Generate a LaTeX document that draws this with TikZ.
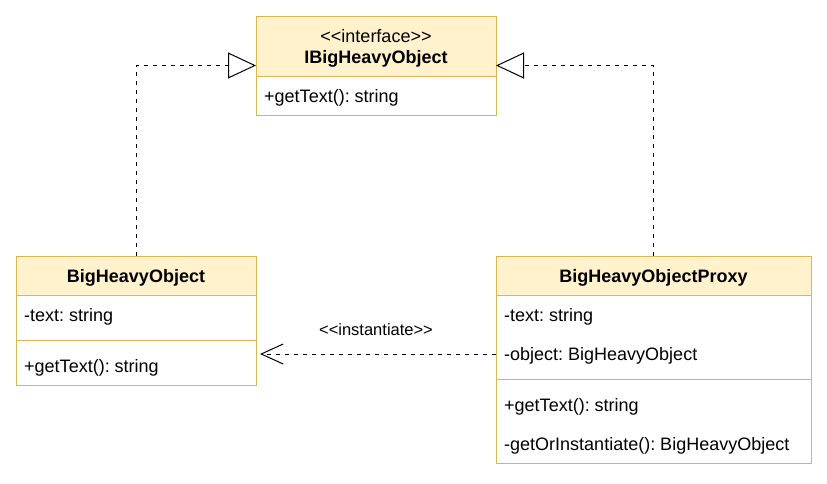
\documentclass[tikz,border=0pt]{standalone}
\usepackage{fontspec}
\setmainfont{Liberation Sans}[Ligatures=TeXOff]
\frenchspacing
\usetikzlibrary{arrows.meta}
\definecolor{hdrfill}{HTML}{FFF2CC}
\definecolor{hdrline}{HTML}{D6B656}
\begin{document}
\begin{tikzpicture}[x=1pt,y=-1pt,
  every node/.style={font=\fontsize{18}{20}\selectfont},
  classbox/.style={draw=hdrline,fill=white,line width=1pt,anchor=north west,inner sep=0,outer sep=0},
  hdrbox/.style={draw=hdrline,fill=hdrfill,line width=1pt,anchor=north west,inner sep=0,outer sep=0},
  divider/.style={draw=hdrline,line width=1pt},
  member/.style={anchor=west,inner sep=0,text height=13pt,text depth=0pt},
  title/.style={inner sep=0,text height=13pt,text depth=0pt,font=\fontsize{18}{20}\selectfont\bfseries},
  plain/.style={inner sep=0,text height=13pt,text depth=0pt},
  small/.style={inner sep=0,font=\fontsize{16.5}{18}\selectfont},
  realize/.style={draw=black,line width=1pt,dash pattern=on 4.5pt off 4.5pt,
    -{Triangle[open,length=28pt,width=26pt,line width=1pt]}},
  depend/.style={draw=black,line width=1pt,dash pattern=on 4.5pt off 4.5pt,
    -{Straight Barb[length=22pt,width=20pt,line width=1pt]},shorten >=4pt}
]
\useasboundingbox (0,0) rectangle (827,483);
\fill[white] (0,0) rectangle (827,483);

% Interface
\node[classbox,minimum width=240,minimum height=99] (iface) at (256,16) {};
\node[hdrbox,minimum width=240,minimum height=60] (ifaceh) at (256,16) {};
\node[plain] (ifst) at (376,36) {<<interface>>};
\node[title] (ifname) at (376,57) {IBigHeavyObject};
\node[member] (ifop) at (264,96) {+getText(): string};

% BigHeavyObject
\node[classbox,minimum width=240,minimum height=129] (bho) at (16,256) {};
\node[hdrbox,minimum width=240,minimum height=39] (bhoh) at (16,256) {};
\node[title] (bhoname) at (136,276) {BigHeavyObject};
\node[member] (bhoattr) at (24,315) {-text: string};
\coordinate (bhodl) at (16,340);
\coordinate (bhodr) at (256,340);
\draw[divider] (bhodl) -- (bhodr);
\node[member] (bhoop) at (24,366) {+getText(): string};

% BigHeavyObjectProxy
\node[classbox,minimum width=315,minimum height=207] (proxy) at (496,256) {};
\node[hdrbox,minimum width=315,minimum height=39] (proxyh) at (496,256) {};
\node[title] (proxyname) at (653.5,276) {BigHeavyObjectProxy};
\node[member] (pattr1) at (504,315) {-text: string};
\node[member] (pattr2) at (504,354) {-object: BigHeavyObject};
\coordinate (pdl) at (496,379);
\coordinate (pdr) at (811,379);
\draw[divider] (pdl) -- (pdr);
\node[member] (pop1) at (504,405) {+getText(): string};
\node[member] (pop2) at (504,444) {-getOrInstantiate(): BigHeavyObject};

% Connectors
\draw[realize] (bhoh.north) |- (iface.west);
\draw[realize] (proxyh.north) |- (iface.east);
\coordinate (depstart) at (proxy.west |- pattr2.west);
\draw[depend] (depstart) -- (bho.east |- depstart);
\node[small] (instlabel) at (376,330) {<<instantiate>>};
\end{tikzpicture}
\end{document}
